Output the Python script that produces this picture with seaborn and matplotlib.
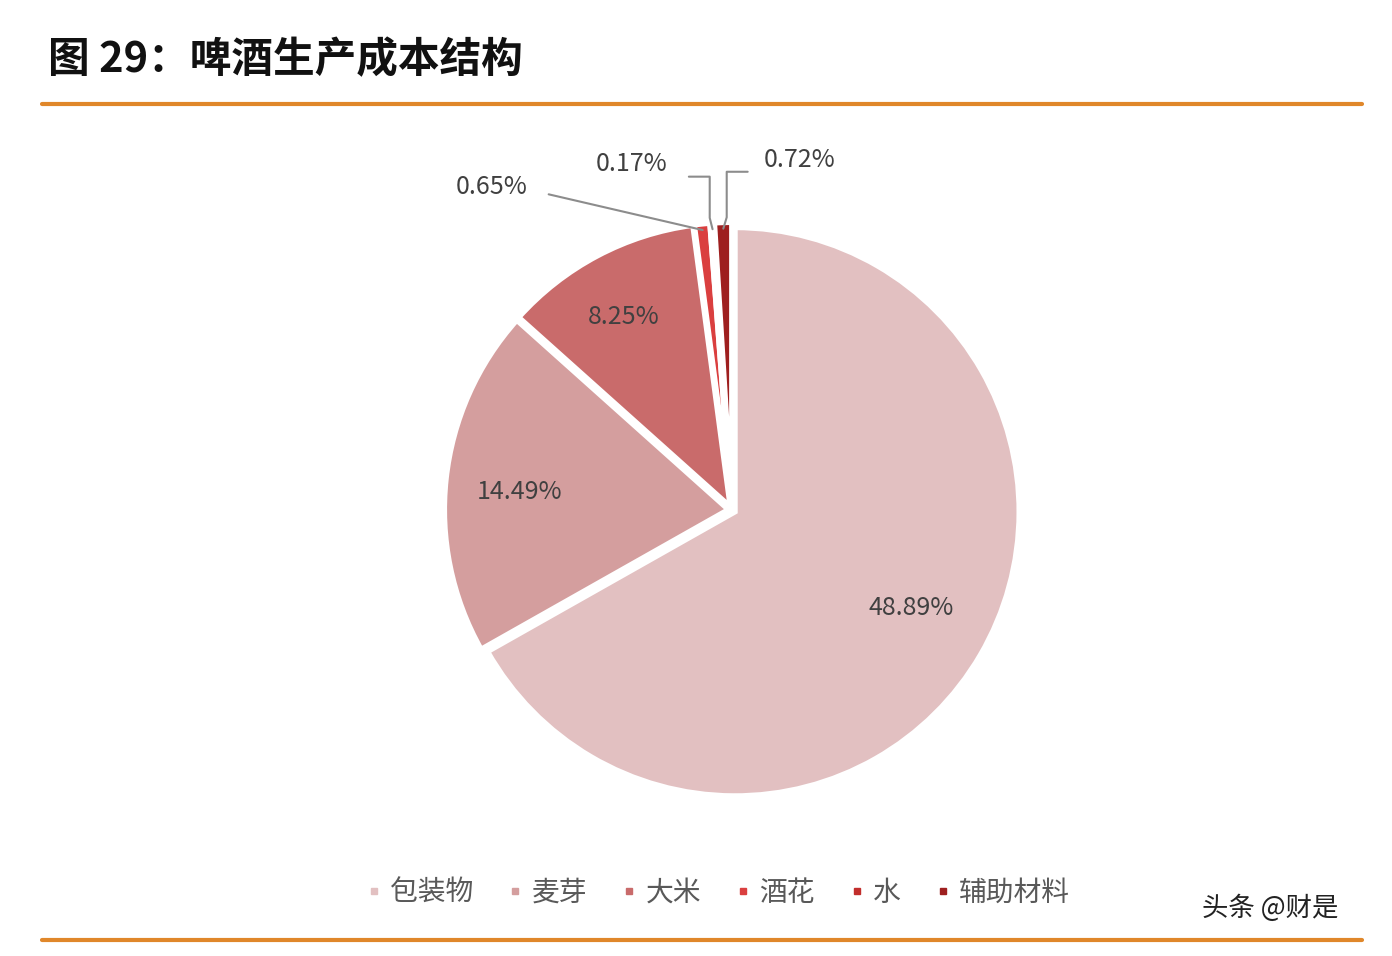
import numpy as np
import matplotlib.pyplot as plt
import seaborn as sns

sns.set_style("white")
plt.rcParams['font.family'] = ['Noto Sans CJK SC', 'DejaVu Sans']

# data
categories = ['包装物', '麦芽', '大米', '酒花', '水', '辅助材料']
values = [48.89, 14.49, 8.25, 0.65, 0.17, 0.72]
labels = ['48.89%', '14.49%', '8.25%', '0.65%', '0.17%', '0.72%']
colors = ['#E2C0C1', '#D49E9E', '#C96B6B', '#DA3F3F', '#C22E2C', '#9E1F1F']

fig = plt.figure(figsize=(13.92, 9.56), dpi=100)

# title and orange rules
fig.text(48 / 1392, 1 - 60 / 956, '图 29：啤酒生产成本结构', fontsize=30, fontweight='bold',
         va='center', ha='left', color='#111111')
fig.add_artist(plt.Line2D([42 / 1392, 1362 / 1392], [1 - 104 / 956] * 2, color='#E0872A', lw=3))
fig.add_artist(plt.Line2D([42 / 1392, 1362 / 1392], [1 - 940 / 956] * 2, color='#E0872A', lw=3))

# pie
r = 290
cx, cy = 732, 510
ax = fig.add_axes([(cx - r) / 1392, (956 - cy - r) / 956, 2 * r / 1392, 2 * r / 956])
wedges, _ = ax.pie(values, colors=colors, startangle=90, counterclock=False,
                   explode=[0.012] * len(values),
                   wedgeprops=dict(edgecolor='white', linewidth=4))
ax.set_xlim(-1.02, 1.02)
ax.set_ylim(-1.02, 1.02)
ax.set_aspect('auto')
ax.axis('off')

def px(x, y):
    return ((x - cx) / r, (cy - y) / r)

txt = dict(fontsize=18, color='#404040', ha='center', va='center')
for lab, (x, y) in zip(labels[:3], [(915, 610), (515, 492), (622, 313)]):
    ax.text(*px(x, y), lab, **txt)

# small slices with leader lines
small = [(3, (487, 181), (545, 188)), (4, (630, 157), (688, 170)), (5, (801, 153), (748, 165))]
for i, (tx, ty), (lx, ly) in small:
    w = wedges[i]
    ang = np.deg2rad((w.theta1 + w.theta2) / 2)
    ex, ey = 0.99 * np.cos(ang), 0.99 * np.sin(ang)
    ax.text(*px(tx, ty), labels[i], **txt)
    x0, y0 = px(lx, ly)
    if i == 3:
        ax.plot([x0, ex], [y0, ey], color='#8C8C8C', lw=1.5, clip_on=False)
    else:
        mx = ex + (0.012 if i == 5 else -0.01)
        ax.plot([x0, mx, mx, ex], [y0, y0, ey + 0.04, ey], color='#8C8C8C', lw=1.5, clip_on=False)

# legend
handles = [plt.Line2D([], [], marker='s', ls='', color=c, markersize=5) for c in colors]
fig.legend(handles, categories, loc='center', bbox_to_anchor=(715 / 1392, 1 - 893 / 956),
           ncol=6, frameon=False, fontsize=20, handletextpad=0.1, columnspacing=1.0,
           handlelength=1.0, labelcolor='#595959')

fig.text(1270 / 1392, 1 - 908 / 956, '头条 @财是', fontsize=19, ha='center', va='center', color='#222222')

plt.savefig('out.png', dpi=100)
